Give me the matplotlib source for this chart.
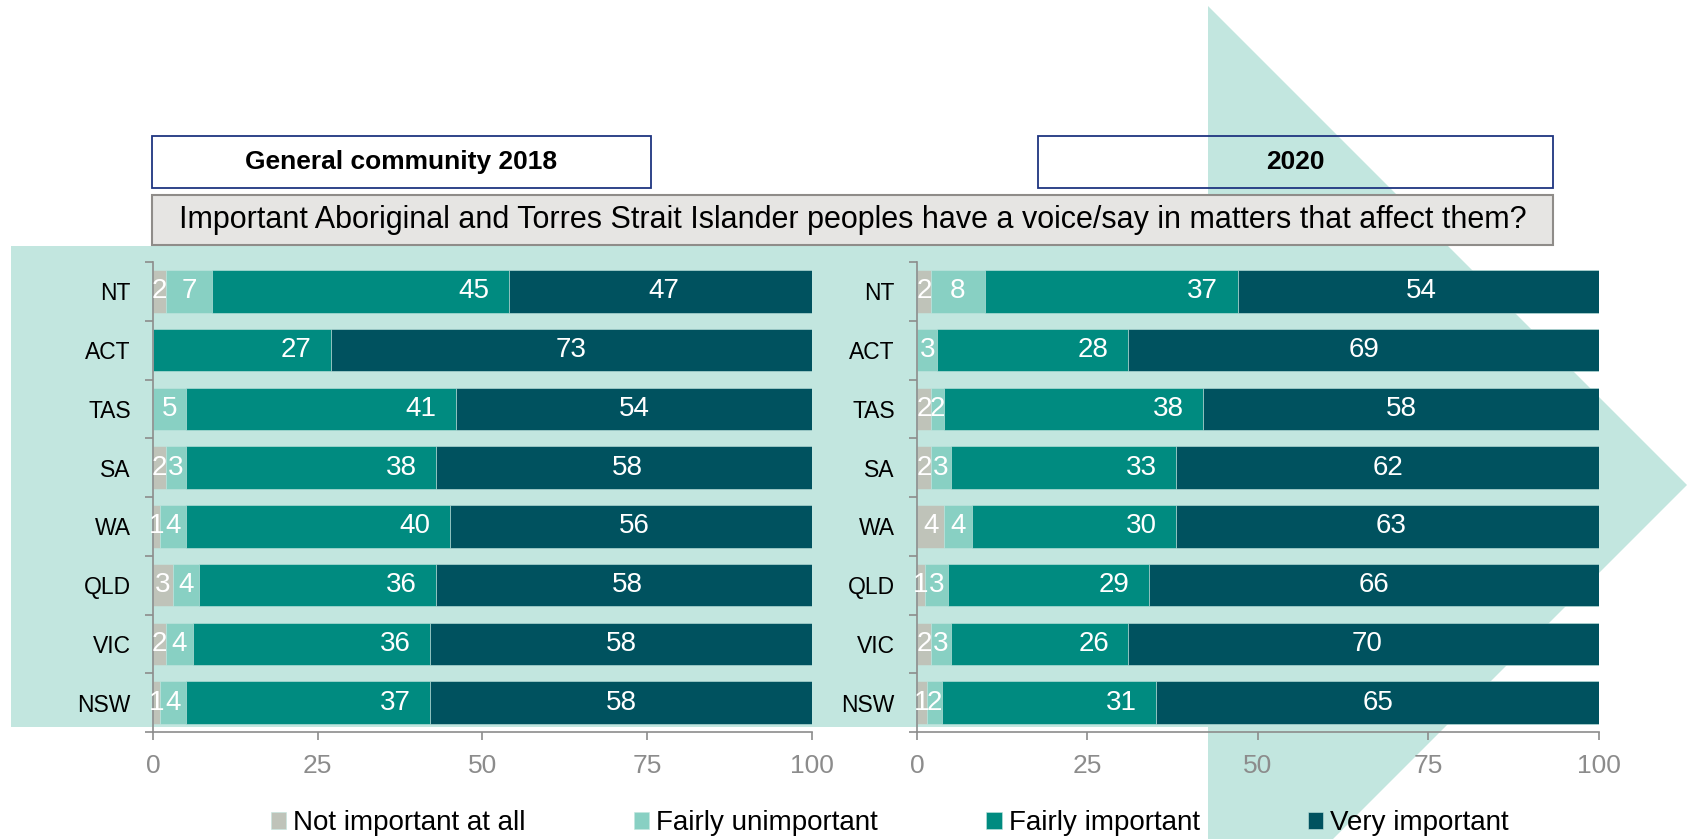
import numpy as np
import matplotlib.pyplot as plt
from matplotlib.patches import Polygon, Rectangle

plt.rcParams['font.family'] = ['Liberation Sans', 'DejaVu Sans']

states = ['NT', 'ACT', 'TAS', 'SA', 'WA', 'QLD', 'VIC', 'NSW']
levels = ['Not important at all', 'Fairly unimportant', 'Fairly important', 'Very important']
colors = ['#BFC3B9', '#88D0C3', '#008B80', '#00525F']

# general community 2018
not_2018 = [2, 0, 0, 2, 1, 3, 2, 1]
unimp_2018 = [7, 0, 5, 3, 4, 4, 4, 4]
fairly_2018 = [45, 27, 41, 38, 40, 36, 36, 37]
very_2018 = [47, 73, 54, 58, 56, 58, 58, 58]

# 2020
not_2020 = [2, 0, 2, 2, 4, 1.2, 2, 1.4]
unimp_2020 = [8, 3, 2, 3, 4, 3.4, 3, 2.3]
fairly_2020 = [37, 28, 38, 33, 30, 29.4, 26, 31.4]
very_2020 = [54, 69, 58, 62, 63, 66.0, 70, 64.9]

x_ticks = [0, 25, 50, 75, 100]
question = ('Important Aboriginal and Torres Strait Islander peoples have a '
            'voice/say in matters that affect them?')

W, H = 1690, 839
fig = plt.figure(figsize=(W / 100, H / 100), dpi=100)


def fx(px):
    return px / W


def fy(py):
    return 1 - py / H


# big pale arrow behind everything
arrow = [(11, 246), (1208, 246), (1208, 6), (1687, 485),
         (1208, 964), (1208, 727), (11, 727)]
fig.patches.append(Polygon([(fx(x), fy(y)) for x, y in arrow], closed=True,
                           transform=fig.transFigure, facecolor='#C2E6DF',
                           edgecolor='none', zorder=-2))

# header boxes
fig.patches.append(Rectangle((fx(152), fy(188)), fx(651) - fx(152), 52 / H,
                             transform=fig.transFigure, facecolor='none',
                             edgecolor='#1F3580', linewidth=1.3, zorder=2))
fig.patches.append(Rectangle((fx(1038), fy(188)), fx(1553) - fx(1038), 52 / H,
                             transform=fig.transFigure, facecolor='none',
                             edgecolor='#1F3580', linewidth=1.3, zorder=2))
fig.patches.append(Rectangle((fx(152), fy(245)), fx(1553) - fx(152), 50 / H,
                             transform=fig.transFigure, facecolor='#E6E5E3',
                             edgecolor='#8F8C89', linewidth=1.5, zorder=1))
fig.text(fx(401.5), fy(162), 'General community 2018', ha='center', va='center',
         fontsize=19, fontweight='bold')
fig.text(fx(1295.5), fy(162), '2020', ha='center', va='center',
         fontsize=19, fontweight='bold')
fig.text(fx(852.5), fy(220), question, ha='center', va='center', fontsize=22)

ax1 = fig.add_axes([fx(153), fy(732), fx(812) - fx(153), 470 / H])
ax2 = fig.add_axes([fx(917), fy(732), fx(1599) - fx(917), 470 / H])


def draw_panel(ax, series):
    ax.set_facecolor('none')
    y = np.arange(len(states))
    left = np.zeros(len(states))
    for i, vals in enumerate(series):
        vals = np.array(vals, dtype=float)
        ax.barh(y, vals, left=left, height=0.72, color=colors[i],
                edgecolor='#C2E6DF', linewidth=0.4, label=levels[i])
        for yy, l, v in zip(y, left, vals):
            if v <= 0:
                continue
            if i == 2:
                # inside end for the "fairly important" segment
                ax.annotate(f'{v:.0f}', (l + v, yy), xytext=(-14, 0),
                            textcoords='offset points', ha='right', va='center',
                            color='white', fontsize=20)
            else:
                ax.text(l + v / 2, yy, f'{v:.0f}', ha='center', va='center',
                        color='white', fontsize=20)
        left += vals

    ax.set_xlim(0, 100)
    ax.set_ylim(len(states) - 0.5, -0.5)
    ax.set_xticks(x_ticks)
    ax.set_yticks(y)
    ax.set_yticklabels(states)
    ax.set_yticks(np.arange(-0.5, len(states), 1), minor=True)
    for s in ['top', 'right']:
        ax.spines[s].set_visible(False)
    for s in ['left', 'bottom']:
        ax.spines[s].set_color('#8C8C8C')
        ax.spines[s].set_linewidth(1.2)
    ax.tick_params(axis='y', which='major', length=0, pad=16, labelsize=16.5,
                   labelcolor='black')
    ax.tick_params(axis='y', which='minor', length=6, width=1.2, color='#8C8C8C')
    ax.tick_params(axis='x', length=6, width=1.2, color='#8C8C8C', pad=10,
                   labelsize=19, labelcolor='#8C8C8C')


draw_panel(ax1, [not_2018, unimp_2018, fairly_2018, very_2018])
draw_panel(ax2, [not_2020, unimp_2020, fairly_2020, very_2020])

handles, labels = ax1.get_legend_handles_labels()
fig.legend(handles, labels, loc='center', bbox_to_anchor=(fx(890), fy(823)),
           ncol=4, frameon=False, fontsize=20, handlelength=0.55,
           handleheight=0.55, handletextpad=0.25, columnspacing=3.9, borderpad=0)

fig.savefig('out.png', dpi=100)
